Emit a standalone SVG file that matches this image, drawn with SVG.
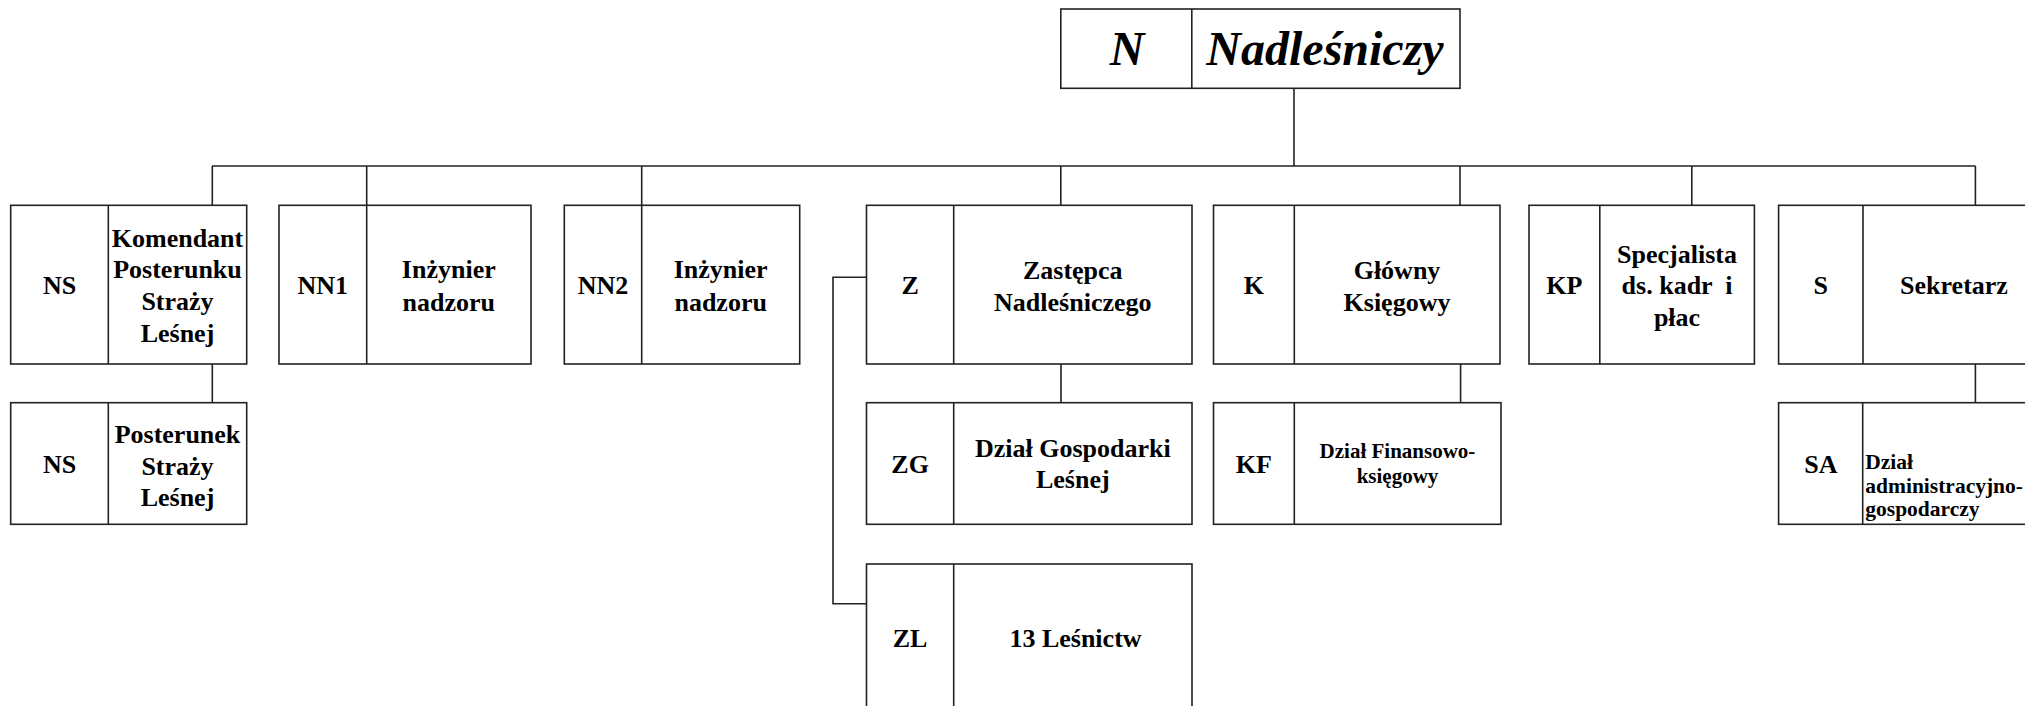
<svg xmlns="http://www.w3.org/2000/svg" width="2025" height="706" viewBox="0 0 2025 706">
<style>
.box{fill:#fff;stroke:#222;stroke-width:1.6}
.div{stroke:#222;stroke-width:1.6}
.con{fill:none;stroke:#222;stroke-width:1.6}
text{font-family:"Liberation Serif",serif;font-weight:bold;fill:#000}
.t{font-size:26px;text-anchor:middle}
.s{font-size:21px;text-anchor:middle}
.sl{font-size:21.5px}
.top{font-size:48px;font-style:italic;text-anchor:middle}
</style>
<rect width="2025" height="706" fill="#fff"/>
<g id="connectors">
<line class="con" x1="1294" y1="88" x2="1294" y2="166"/>
<line class="con" x1="212" y1="166" x2="1975.5" y2="166"/>
<line class="con" x1="212.3" y1="166" x2="212.3" y2="205"/>
<line class="con" x1="366.7" y1="166" x2="366.7" y2="205"/>
<line class="con" x1="641.7" y1="166" x2="641.7" y2="205"/>
<line class="con" x1="1060.8" y1="166" x2="1060.8" y2="205"/>
<line class="con" x1="1460" y1="166" x2="1460" y2="205"/>
<line class="con" x1="1691.8" y1="166" x2="1691.8" y2="205"/>
<line class="con" x1="1975.4" y1="166" x2="1975.4" y2="205"/>
<line class="con" x1="212.3" y1="364" x2="212.3" y2="402.7"/>
<line class="con" x1="1061" y1="364" x2="1061" y2="402.7"/>
<line class="con" x1="1460.6" y1="364" x2="1460.6" y2="402.7"/>
<line class="con" x1="1975.4" y1="364" x2="1975.4" y2="402.7"/>
<polyline class="con" points="866.5,277.3 833,277.3 833,603.7 866.5,603.7"/>
</g>
<g id="N">
<rect class="box" x="1060.8" y="9" width="399.2" height="79.3"/>
<line class="div" x1="1191.8" y1="9" x2="1191.8" y2="88.3"/>
<text class="top" x="1127" y="65">N</text>
<text class="top" x="1325" y="65">Nadleśniczy</text>
</g>
<g id="NS">
<rect class="box" x="10.7" y="205.3" width="236" height="158.7"/>
<line class="div" x1="108.3" y1="205.3" x2="108.3" y2="364"/>
<text class="t" x="59.5" y="294">NS</text>
<text class="t" x="177.5" y="246.7">Komendant</text>
<text class="t" x="177.5" y="278.3">Posterunku</text>
<text class="t" x="177.5" y="310">Straży</text>
<text class="t" x="177.5" y="341.7">Leśnej</text>
</g>
<g id="NN1">
<rect class="box" x="279" y="205.3" width="252" height="158.7"/>
<line class="div" x1="366.7" y1="205.3" x2="366.7" y2="364"/>
<text class="t" x="322.8" y="294">NN1</text>
<text class="t" x="448.8" y="278.3">Inżynier</text>
<text class="t" x="448.8" y="310.5">nadzoru</text>
</g>
<g id="NN2">
<rect class="box" x="564.3" y="205.3" width="235.4" height="158.7"/>
<line class="div" x1="641.7" y1="205.3" x2="641.7" y2="364"/>
<text class="t" x="603" y="294">NN2</text>
<text class="t" x="720.7" y="278.3">Inżynier</text>
<text class="t" x="720.7" y="310.5">nadzoru</text>
</g>
<g id="Z">
<rect class="box" x="866.5" y="205.3" width="325.5" height="158.7"/>
<line class="div" x1="953.7" y1="205.3" x2="953.7" y2="364"/>
<text class="t" x="910.1" y="294">Z</text>
<text class="t" x="1072.8" y="279">Zastępca</text>
<text class="t" x="1072.8" y="310.5">Nadleśniczego</text>
</g>
<g id="K">
<rect class="box" x="1213.5" y="205.3" width="286.5" height="158.7"/>
<line class="div" x1="1294.3" y1="205.3" x2="1294.3" y2="364"/>
<text class="t" x="1253.9" y="294">K</text>
<text class="t" x="1397" y="279">Główny</text>
<text class="t" x="1397" y="310.5">Księgowy</text>
</g>
<g id="KP">
<rect class="box" x="1529" y="205.3" width="225.4" height="158.7"/>
<line class="div" x1="1599.8" y1="205.3" x2="1599.8" y2="364"/>
<text class="t" x="1564.4" y="294">KP</text>
<text class="t" x="1677" y="262.7">Specjalista</text>
<text class="t" x="1677" y="294.3" xml:space="preserve">ds. kadr  i</text>
<text class="t" x="1677" y="326">płac</text>
</g>
<g id="S">
<rect class="box" x="1778.6" y="205.3" width="266.4" height="158.7"/>
<line class="div" x1="1863" y1="205.3" x2="1863" y2="364"/>
<text class="t" x="1820.8" y="294">S</text>
<text class="t" x="1954" y="294.3">Sekretarz</text>
</g>
<g id="NS2">
<rect class="box" x="10.7" y="402.7" width="236" height="121.6"/>
<line class="div" x1="108.3" y1="402.7" x2="108.3" y2="524.3"/>
<text class="t" x="59.5" y="472.7">NS</text>
<text class="t" x="177.5" y="442.7">Posterunek</text>
<text class="t" x="177.5" y="474.5">Straży</text>
<text class="t" x="177.5" y="506">Leśnej</text>
</g>
<g id="ZG">
<rect class="box" x="866.5" y="402.7" width="325.5" height="121.6"/>
<line class="div" x1="953.7" y1="402.7" x2="953.7" y2="524.3"/>
<text class="t" x="910.1" y="472.7">ZG</text>
<text class="t" x="1072.8" y="456.7">Dział Gospodarki</text>
<text class="t" x="1072.8" y="488.3">Leśnej</text>
</g>
<g id="KF">
<rect class="box" x="1213.5" y="402.7" width="287.5" height="121.6"/>
<line class="div" x1="1294.3" y1="402.7" x2="1294.3" y2="524.3"/>
<text class="t" x="1253.9" y="472.7">KF</text>
<text class="s" x="1397.5" y="458.3">Dział Finansowo-</text>
<text class="s" x="1397.5" y="483.3">księgowy</text>
</g>
<g id="SA">
<rect class="box" x="1778.6" y="402.7" width="266.4" height="121.6"/>
<line class="div" x1="1862.7" y1="402.7" x2="1862.7" y2="524.3"/>
<text class="t" x="1820.8" y="472.7">SA</text>
<text class="sl" x="1865.3" y="469.3">Dział</text>
<text class="sl" x="1865.3" y="492.5">administracyjno-</text>
<text class="sl" x="1865.3" y="515.5">gospodarczy</text>
</g>
<g id="ZL">
<rect class="box" x="866.5" y="564" width="325.5" height="150"/>
<line class="div" x1="953.7" y1="564" x2="953.7" y2="714"/>
<text class="t" x="910.1" y="646.7">ZL</text>
<text class="t" x="1075.5" y="646.7">13 Leśnictw</text>
</g>
</svg>
